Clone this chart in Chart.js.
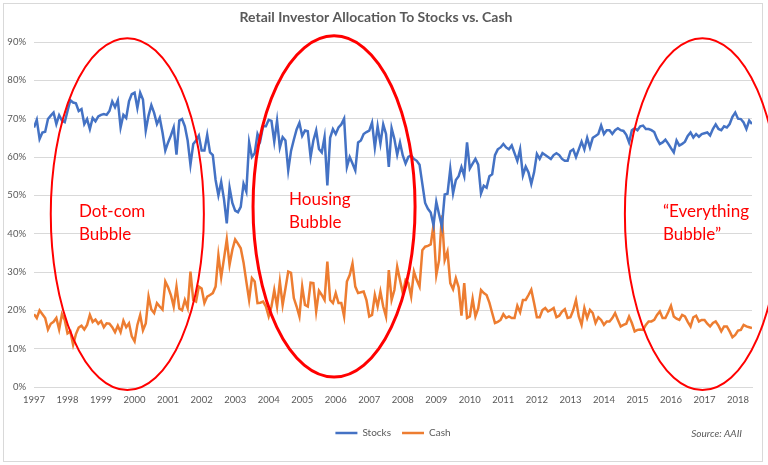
<!DOCTYPE html>
<html>
<head>
<meta charset="utf-8">
<script src="https://cdn.jsdelivr.net/npm/chart.js@4.4.1/dist/chart.umd.min.js"></script>
<style>
html,body{margin:0;padding:0;background:#fff;}
#wrap{width:768px;height:465px;position:relative;}
</style>
</head>
<body>
<div id="wrap"><canvas id="c" width="768" height="465"></canvas></div>
<script>
// Monthly data, Jan 1997 .. Jun 2018 (index 0 = Jan 1997)
const yearLabels = ['1997','1998','1999','2000','2001','2002','2003','2004','2005','2006','2007',
  '2008','2009','2010','2011','2012','2013','2014','2015','2016','2017','2018'];

const stocks = [
  67.7, 69.7, 64.7, 66.4, 66.6, 69.9, 70.8, 71.6, 68.6, 70.9, 69.5, 69.1,
  72, 74.8, 74.2, 74, 72, 72.5, 68.6, 69.9, 67.3, 70.2, 69.3, 70.6,
  71, 71.2, 71, 72, 74.5, 73, 74.8, 67.7, 71, 70.2, 74.5, 76.4,
  76.8, 72.8, 76.8, 75, 66.9, 70.8, 73.5, 71.5, 68.6, 70.2, 66.4, 61.7,
  63.8, 65.6, 67.7, 60.6, 69.5, 69.9, 68, 64.3, 58, 63.4, 64.3, 65.6,
  61.7, 61.7, 65.8, 61.2, 60.5, 54, 50, 53.5, 49, 42.7, 52, 48,
  46, 45.6, 47, 53, 51, 63.8, 60, 61, 66, 64.3, 68, 68,
  69.7, 69.4, 64, 69.5, 62.5, 65.2, 64.3, 56.5, 61.6, 64.5, 67.2, 68.9,
  65.5, 66.9, 66.7, 60, 64.3, 66.9, 62.1, 61.2, 65.2, 52.6, 65, 67.3,
  66, 67.7, 68.5, 70, 57.4, 60, 58.3, 56.5, 63.8, 64.3, 66, 66.5,
  66.9, 69, 62.5, 68, 63.5, 68.5, 66, 57.4, 67.5, 64.7, 60.6, 63.8,
  60.4, 58.3, 60, 60.4, 59.5, 59, 58, 53, 48, 46.5, 45.5, 42.2,
  48.3, 45, 41.8, 50.2, 50.4, 56.9, 50.5, 54, 55, 57.4, 55, 63.8,
  57, 58.3, 59.5, 58, 50.5, 52.5, 52, 55, 55.5, 60.5, 62, 62.5,
  63.4, 62.5, 62, 63, 61, 59, 62, 55.2, 57.5, 56, 53, 56,
  60.8, 59.5, 61, 60.5, 60, 59.5, 60.5, 61, 60.5, 59.5, 59, 59,
  61.5, 62, 60, 62, 64, 62, 65, 62.5, 65, 65.5, 66, 68.2,
  66, 67, 67, 66, 67, 67.5, 67, 66.8, 65.8, 63.8, 67, 67.5,
  67, 68, 68.2, 67.3, 67.3, 67, 66.5, 64.7, 63.4, 63.8, 64.5, 63.5,
  62.3, 61.2, 64.3, 63, 63.4, 64, 65.5, 66.4, 65.1, 66, 65.3, 66,
  66.2, 66.4, 65.6, 67.3, 68.5, 67.3, 67, 68, 67.7, 68.6, 70.5, 71.6,
  70, 69.9, 69, 67.3, 69.5, 68.6
];

const cash = [
  19, 18, 20, 19, 18, 15, 16.5, 17, 18, 15, 19, 17.5,
  14, 14.5, 11, 13.8, 15.5, 16, 15, 16.2, 18.8, 17, 17.6, 16.5,
  17.2, 15.6, 16.6, 16.5, 15.6, 14.3, 16, 14.3, 17.3, 15.6, 16.6, 13.2,
  11.9, 16.2, 18.8, 14.8, 16.6, 23.6, 20.2, 19.3, 21.9, 21, 20.2, 27.5,
  26, 24, 21, 26.2, 20.5, 20, 22.7, 20.6, 30.1, 22.7, 22.3, 26.2,
  25.7, 21.9, 23.6, 24, 24.5, 26.2, 34.4, 28.6, 33.5, 38.5, 31.9, 35.8,
  38.5, 37.4, 36.2, 32.5, 27.5, 22.7, 28.4, 27.5, 21.9, 22, 22.3, 21,
  18.4, 21, 25.3, 21, 27.5, 21.4, 25.7, 30.1, 29.8, 23.2, 21, 18.4,
  26.2, 21.4, 21, 27.2, 27.1, 19.7, 25.1, 24, 22.7, 32.7, 22.7, 21.9,
  24.5, 21.9, 21.9, 18.4, 27.5, 29.2, 32.2, 26.2, 24.5, 24.7, 24.9, 22.7,
  18.4, 18.8, 24, 21, 24.9, 21, 18.4, 30.5, 22.7, 25.3, 31.4, 27.9,
  24.5, 27.9, 27.1, 23.6, 30.1, 27.9, 26.2, 35.7, 36.6, 36.8, 37.2, 42.2,
  29.2, 33.1, 44.8, 33.1, 35.3, 27.1, 25.5, 28.4, 26, 18.6, 27.1, 18,
  18.4, 23, 18.4, 20.5, 25.3, 24.5, 24, 22, 19.3, 16.7, 17, 17.5,
  19, 18, 18.4, 18, 18, 21.2, 19.5, 22.7, 22.7, 24, 25.4, 21.9,
  18.2, 18.2, 20.1, 20.6, 19.7, 20.1, 20.6, 18.2, 18.6, 19.7, 20.3, 18,
  18.2, 20, 22.7, 18.4, 16.2, 20.6, 18, 20.1, 19.3, 16.7, 18.2, 17.5,
  16.2, 17.1, 17.1, 18, 19.3, 17.5, 15.8, 16.2, 16.5, 18.4, 16.7, 14.5,
  14.9, 15, 14.9, 16.2, 17.1, 17.1, 17.5, 18.8, 19.7, 18, 18, 19.5,
  21.2, 18.4, 17.8, 17.5, 18.8, 18.4, 17, 15.8, 18.2, 18.6, 17.1, 17.5,
  17.5, 16.5, 15.8, 16.7, 17.1, 16, 14.5, 15.8, 15.8, 14.5, 13, 13.6,
  14.7, 14.9, 16.2, 15.8, 15.6, 15.4
];

const yMin = 0, yMax = 90, yStep = 10;

// Hand-drawn style annotations, given in data units (month index, percent)
const bubbles = [
  {text: ['Dot-com', 'Bubble'],        m0: 6.0,   m1: 60.8,  v0: -0.8, v1: 91.0, lw: 2,   tm: 16.1,  tv: 44.4},
  {text: ['Housing', 'Bubble'],        m0: 78.4,  m1: 136.4, v0: 2.6,  v1: 91.6, lw: 3,   tm: 91.3,  tv: 47.4},
  {text: ['\u201CEverything', 'Bubble\u201D'], m0: 211.5, m1: 267.0, v0: -0.8, v1: 91.0, lw: 2, tm: 225.1, tv: 44.4}
];

Chart.defaults.font.family = 'Lato, "Open Sans", sans-serif';
Chart.defaults.color = '#595959';

const decor = {
  id: 'decor',
  beforeDraw(chart) {
    const {ctx, width, height} = chart;
    ctx.save();
    ctx.fillStyle = '#ffffff';
    ctx.fillRect(0, 0, width, height);
    ctx.strokeStyle = '#D9D9D9';
    ctx.lineWidth = 1;
    ctx.strokeRect(3.5, 3.5, 759, 458);
    ctx.restore();
  },
  afterDraw(chart) {
    const xs = chart.scales.x, ys = chart.scales.y, ctx = chart.ctx;
    ctx.save();
    bubbles.forEach(b => {
      const x0 = xs.getPixelForValue(b.m0), x1 = xs.getPixelForValue(b.m1);
      const y0 = ys.getPixelForValue(b.v1), y1 = ys.getPixelForValue(b.v0);
      ctx.beginPath();
      ctx.ellipse((x0 + x1) / 2, (y0 + y1) / 2, (x1 - x0) / 2, (y1 - y0) / 2, 0, 0, Math.PI * 2);
      ctx.strokeStyle = '#FF0000';
      ctx.lineWidth = b.lw;
      ctx.stroke();
      ctx.font = '17px Lato, "Open Sans", sans-serif';
      ctx.fillStyle = '#FF0000';
      ctx.textAlign = 'left';
      ctx.textBaseline = 'alphabetic';
      const tx = xs.getPixelForValue(b.tm), ty = ys.getPixelForValue(b.tv);
      b.text.forEach((t, i) => ctx.fillText(t, tx, ty + i * 23));
    });
    ctx.font = 'italic 10px Lato, "Open Sans", sans-serif';
    ctx.fillStyle = '#595959';
    ctx.textAlign = 'right';
    ctx.textBaseline = 'middle';
    ctx.fillText('Source: AAII', 742, 434);
    ctx.restore();
  }
};

new Chart(document.getElementById('c'), {
  type: 'line',
  data: {
    datasets: [
      {label: 'Stocks', data: stocks.map((v, i) => ({x: i, y: v})),
       borderColor: '#4472C4', backgroundColor: '#4472C4', borderWidth: 2.5,
       pointRadius: 0, tension: 0, fill: false},
      {label: 'Cash', data: cash.map((v, i) => ({x: i, y: v})),
       borderColor: '#ED7D31', backgroundColor: '#ED7D31', borderWidth: 2.5,
       pointRadius: 0, tension: 0, fill: false}
    ]
  },
  options: {
    responsive: false,
    animation: false,
    devicePixelRatio: 1,
    layout: {padding: {top: 0, right: 16, bottom: 17, left: 0}},
    plugins: {
      title: {
        display: true,
        text: 'Retail Investor Allocation To Stocks vs. Cash',
        color: '#595959',
        font: {size: 14, weight: 'bold'},
        padding: {top: 9, bottom: 16.2}
      },
      legend: {
        display: true,
        position: 'bottom',
        fullSize: false,
        labels: {
          usePointStyle: true,
          pointStyle: 'line',
          pointStyleWidth: 22,
          padding: 11,
          color: '#595959',
          font: {size: 10}
        }
      },
      tooltip: {enabled: false}
    },
    scales: {
      x: {
        type: 'linear',
        min: 0,
        max: stocks.length - 1,
        afterBuildTicks: s => { s.ticks = yearLabels.map((_, k) => ({value: k * 12})); },
        afterFit: s => { s.height = 30; },
        grid: {display: false, drawTicks: false},
        border: {display: true, color: '#D9D9D9'},
        ticks: {
          autoSkip: false, maxRotation: 0, padding: 7,
          color: '#595959', font: {size: 9.5},
          callback: v => yearLabels[Math.round(v / 12)]
        }
      },
      y: {
        min: yMin, max: yMax,
        afterFit: s => { s.width = 34; },
        grid: {color: '#D9D9D9', drawTicks: false},
        border: {display: false},
        ticks: {
          stepSize: yStep, padding: 8,
          color: '#595959', font: {size: 9.5},
          callback: v => v + '%'
        }
      }
    }
  },
  plugins: [decor]
});
</script>
</body>
</html>
